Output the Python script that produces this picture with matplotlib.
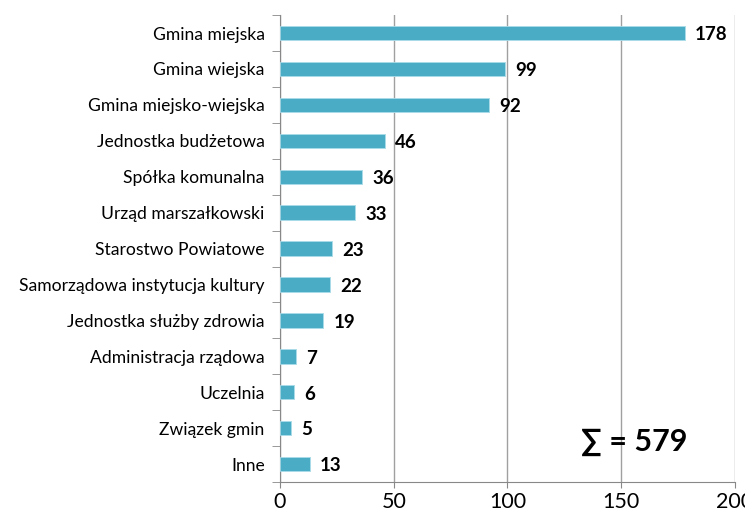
import matplotlib
matplotlib.use("Agg")
import matplotlib.pyplot as plt
from matplotlib.ticker import FixedLocator

categories = [
    "Gmina miejska",
    "Gmina wiejska",
    "Gmina miejsko-wiejska",
    "Jednostka budżetowa",
    "Spółka komunalna",
    "Urząd marszałkowski",
    "Starostwo Powiatowe",
    "Samorządowa instytucja kultury",
    "Jednostka służby zdrowia",
    "Administracja rządowa",
    "Uczelnia",
    "Związek gmin",
    "Inne",
]
values = [178, 99, 92, 46, 36, 33, 23, 22, 19, 7, 6, 5, 13]
total_label = "∑ = 579"

plt.rcParams['font.family'] = ['Lato', 'DejaVu Sans']

fig = plt.figure(figsize=(7.45, 5.2), dpi=100)
ax = fig.add_axes([0.3758, 0.073, 0.6108, 0.898])

pos = list(range(len(categories)))
bar_color = "#4BACC6"
ax.barh(pos, values, height=0.4, color=bar_color, edgecolor="#a9dbe8", linewidth=0.6, zorder=3)

for p, v in zip(pos, values):
    ax.text(v + 4.5, p + 0.05, str(v), va="center", ha="left", fontsize=13.5,
            fontweight="bold", color="black", zorder=4)

ax.set_xlim(0, 200)
ax.set_ylim(len(categories) - 0.5, -0.5)
ax.set_xticks([0, 50, 100, 150, 200])
ax.tick_params(axis="x", labelsize=15.5, length=4, color="#888888", pad=3)
ax.set_yticks(pos)
ax.set_yticklabels(categories, fontsize=12.6)
ax.tick_params(axis="y", length=0, pad=11)
ax.yaxis.set_minor_locator(FixedLocator([p - 0.5 for p in pos] + [len(categories) - 0.5]))
ax.tick_params(axis="y", which="minor", length=6, color="#888888")

ax.grid(axis="x", color="#a0a0a0", linewidth=1, zorder=0)
for s in ["top", "right"]:
    ax.spines[s].set_visible(False)
for s in ["left", "bottom"]:
    ax.spines[s].set_color("#888888")

ax.text(0.778, 0.085, total_label, transform=ax.transAxes, fontsize=22,
        fontweight="bold", ha="center", va="center")

fig.savefig("out.png", dpi=100)
